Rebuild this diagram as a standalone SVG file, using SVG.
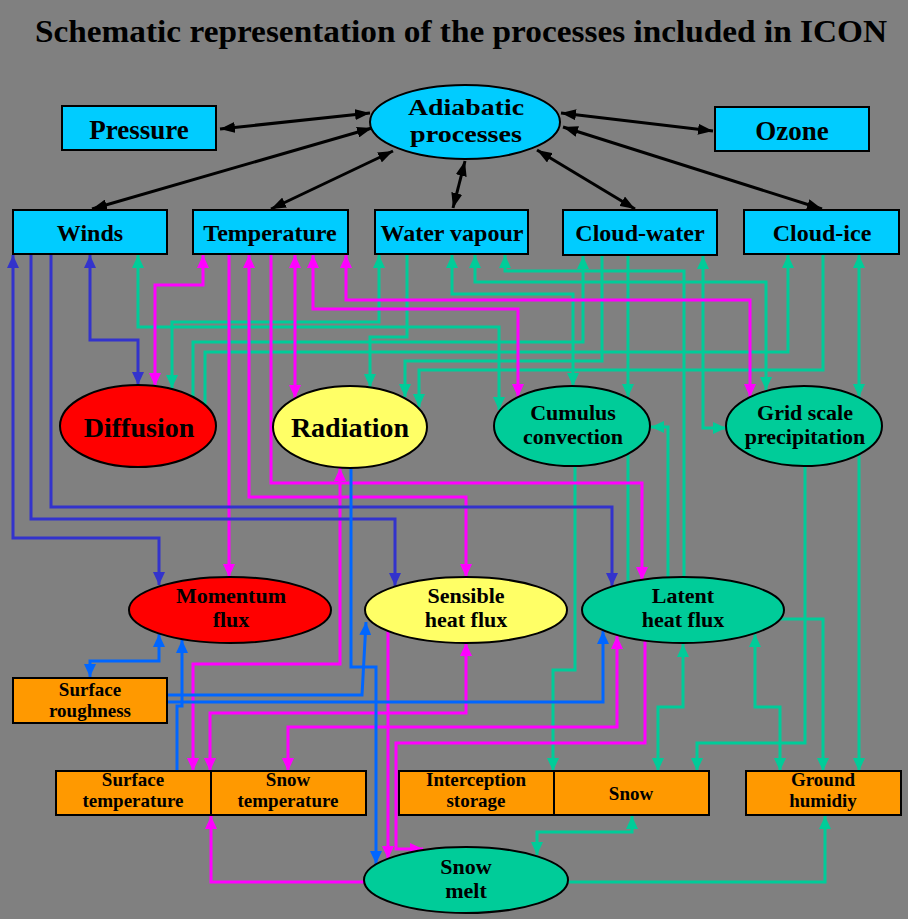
<svg xmlns="http://www.w3.org/2000/svg" width="908" height="919" viewBox="0 0 908 919">
<style>
text{font-family:"Liberation Serif","Times New Roman",serif;font-weight:bold;text-anchor:middle;fill:#000}
.bx{stroke:#000;stroke-width:2}
.cy{fill:#00ccff}.or{fill:#ff9900}.rd{fill:#ff0000}.ye{fill:#ffff66}.tl{fill:#00cc99}
.c{fill:none;stroke-width:3}
.k{stroke:#000;marker-start:url(#ak);marker-end:url(#ak)}
.b{stroke:#3333cc}.lb{stroke:#0066ff}.m{stroke:#ff00ff}.t{stroke:#00cc99}
.b.e,.b.d{marker-end:url(#ab)}.b.d{marker-start:url(#ab)}
.lb.e,.lb.d{marker-end:url(#alb)}.lb.d{marker-start:url(#alb)}
.m.e,.m.d{marker-end:url(#am)}.m.d{marker-start:url(#am)}
.t.e,.t.d{marker-end:url(#at)}.t.d{marker-start:url(#at)}
.f24{font-size:24px}.f27{font-size:27px}.f28{font-size:28px}.f20{font-size:19px}.f25{font-size:22px}
</style>
<defs>
<marker id="ak" viewBox="0 0 15 11" refX="15" refY="5.5" markerWidth="15" markerHeight="11" markerUnits="userSpaceOnUse" orient="auto-start-reverse"><path d="M0,0L15,5.5L0,11z" fill="#000"/></marker>
<marker id="ab" viewBox="0 0 13 12" refX="13" refY="6" markerWidth="13" markerHeight="12" markerUnits="userSpaceOnUse" orient="auto-start-reverse"><path d="M0,0L13,6L0,12z" fill="#3333cc"/></marker>
<marker id="alb" viewBox="0 0 13 12" refX="13" refY="6" markerWidth="13" markerHeight="12" markerUnits="userSpaceOnUse" orient="auto-start-reverse"><path d="M0,0L13,6L0,12z" fill="#0066ff"/></marker>
<marker id="am" viewBox="0 0 13 12" refX="13" refY="6" markerWidth="13" markerHeight="12" markerUnits="userSpaceOnUse" orient="auto-start-reverse"><path d="M0,0L13,6L0,12z" fill="#ff00ff"/></marker>
<marker id="at" viewBox="0 0 13 12" refX="13" refY="6" markerWidth="13" markerHeight="12" markerUnits="userSpaceOnUse" orient="auto-start-reverse"><path d="M0,0L13,6L0,12z" fill="#00cc99"/></marker>
</defs>
<rect width="908" height="919" fill="#808080"/>
<text x="461" y="42" font-size="32" textLength="852" lengthAdjust="spacingAndGlyphs">Schematic representation of the processes included in ICON</text>
<g id="connectors">
<path class="c k" d="M220,129L370,113"/>
<path class="c k" d="M561,113L713,131"/>
<path class="c k" d="M92,209L372,128"/>
<path class="c k" d="M271,209L393,151"/>
<path class="c k" d="M453,208L465,161"/>
<path class="c k" d="M635,209L537,150"/>
<path class="c k" d="M822,209L563,127"/>
<path class="c t d" d="M138,255V327H499V410"/>
<path class="c t d" d="M379,255V322H172V388"/>
<path class="c t e" d="M407,254V337H370V387"/>
<path class="c t e" d="M193,397V342H583V256"/>
<path class="c t e" d="M205,405V352H788V255"/>
<path class="c t e" d="M602,255V361H405V397"/>
<path class="c t e" d="M823,254V370H419V407"/>
<path class="c t d" d="M452,255V294H573V386"/>
<path class="c t d" d="M475,255V282H766V390"/>
<path class="c t e" d="M684,578V271H505V255"/>
<path class="c t e" d="M628,255V397"/>
<path class="c t" d="M628,454V582"/>
<path class="c t d" d="M703,256V428H726"/>
<path class="c t d" d="M859,255V397"/>
<path class="c t e" d="M668,578V427H651"/>
<path class="c t e" d="M575,466V670H553V771"/>
<path class="c t e" d="M805,467V743H697V771"/>
<path class="c t e" d="M859,455V771"/>
<path class="c t e" d="M780,619H823V771"/>
<path class="c t d" d="M780,771V707H755V634"/>
<path class="c t d" d="M658,771V707H683V644"/>
<path class="c t d" d="M632,816V832H537V855"/>
<path class="c t e" d="M568,882H825V816"/>
<path class="c m d" d="M203,255V285H155V386"/>
<path class="c m e" d="M229,254V577"/>
<path class="c m d" d="M249,255V497H466V577"/>
<path class="c m e" d="M271,254V483H642V580"/>
<path class="c m d" d="M295,255V398"/>
<path class="c m d" d="M313,255V309H518V397"/>
<path class="c m d" d="M346,255V300H750V397"/>
<path class="c m d" d="M340,468V664H193V771"/>
<path class="c m d" d="M466,643V713H210V771"/>
<path class="c m d" d="M617,636V727H288V771"/>
<path class="c m e" d="M645,641V743H396V849H423"/>
<path class="c m e" d="M388,631V859"/>
<path class="c m e" d="M365,882H211V816"/>
<path class="c b d" d="M13,255V538H159V585"/>
<path class="c b e" d="M31,254V519H395V586"/>
<path class="c b e" d="M51,254V507H612V586"/>
<path class="c b d" d="M90,255V340H138V385"/>
<path class="c lb d" d="M90,677V661H159V634"/>
<path class="c lb e" d="M177,771V706H182V640"/>
<path class="c lb e" d="M167,695H362L366,622"/>
<path class="c lb e" d="M167,702H603V631"/>
<path class="c lb e" d="M351,468V667H376V864"/>
</g>
<g id="pressure"><rect class="bx cy" x="62" y="106" width="154" height="44"/><text class="f27" x="139" y="139">Pressure</text></g>
<g id="adiabatic"><ellipse class="bx cy" cx="465" cy="122" rx="95" ry="37"/><text x="466" y="115" font-size="23" textLength="116" lengthAdjust="spacingAndGlyphs">Adiabatic</text><text x="466" y="142" font-size="23" textLength="112" lengthAdjust="spacingAndGlyphs">processes</text></g>
<g id="ozone"><rect class="bx cy" x="715" y="107" width="154" height="44"/><text class="f27" x="792" y="140">Ozone</text></g>
<g id="winds"><rect class="bx cy" x="13" y="210" width="154" height="44"/><text class="f24" x="90" y="241">Winds</text></g>
<g id="temperature"><rect class="bx cy" x="193" y="210" width="155" height="44"/><text class="f24" x="270" y="241">Temperature</text></g>
<g id="water-vapour"><rect class="bx cy" x="375" y="210" width="153" height="44"/><text class="f24" x="452" y="241">Water vapour</text></g>
<g id="cloud-water"><rect class="bx cy" x="563" y="210" width="154" height="45"/><text class="f24" x="640" y="241">Cloud-water</text></g>
<g id="cloud-ice"><rect class="bx cy" x="744" y="210" width="155" height="44"/><text class="f24" x="822" y="241">Cloud-ice</text></g>
<g id="diffusion"><ellipse class="bx rd" cx="138" cy="426" rx="78" ry="41"/><text class="f28" x="139" y="437">Diffusion</text></g>
<g id="radiation"><ellipse class="bx ye" cx="350" cy="427" rx="77" ry="41"/><text class="f28" x="350" y="437">Radiation</text></g>
<g id="cumulus"><ellipse class="bx tl" cx="572" cy="426" rx="78" ry="40"/><text class="f25" x="573" y="420">Cumulus</text><text class="f25" x="573" y="444">convection</text></g>
<g id="grid-scale"><ellipse class="bx tl" cx="804" cy="426" rx="78" ry="40"/><text class="f25" x="805" y="420">Grid scale</text><text class="f25" x="805" y="444">precipitation</text></g>
<g id="momentum-flux"><ellipse class="bx rd" cx="230" cy="610" rx="101" ry="33"/><text class="f25" x="231" y="603">Momentum</text><text class="f25" x="231" y="627">flux</text></g>
<g id="sensible-heat-flux"><ellipse class="bx ye" cx="466" cy="610" rx="101" ry="33"/><text class="f25" x="466" y="603">Sensible</text><text class="f25" x="466" y="627">heat flux</text></g>
<g id="latent-heat-flux"><ellipse class="bx tl" cx="683" cy="610" rx="101" ry="33"/><text class="f25" x="683" y="603">Latent</text><text class="f25" x="683" y="627">heat flux</text></g>
<g id="surface-roughness"><rect class="bx or" x="13" y="678" width="154" height="45"/><text class="f20" x="90" y="696">Surface</text><text class="f20" x="90" y="717">roughness</text></g>
<g id="surface-temperature"><rect class="bx or" x="56" y="771" width="155" height="44"/><text class="f20" x="133" y="786">Surface</text><text class="f20" x="133" y="807">temperature</text></g>
<g id="snow-temperature"><rect class="bx or" x="211" y="771" width="155" height="44"/><text class="f20" x="288" y="786">Snow</text><text class="f20" x="288" y="807">temperature</text></g>
<g id="interception-storage"><rect class="bx or" x="399" y="771" width="155" height="44"/><text class="f20" x="476" y="786">Interception</text><text class="f20" x="476" y="807">storage</text></g>
<g id="snow"><rect class="bx or" x="554" y="771" width="155" height="44"/><text class="f20" x="631" y="800">Snow</text></g>
<g id="ground-humidiy"><rect class="bx or" x="746" y="771" width="155" height="44"/><text class="f20" x="823" y="786">Ground</text><text class="f20" x="823" y="807">humidiy</text></g>
<g id="snow-melt"><ellipse class="bx tl" cx="466" cy="880" rx="102" ry="33"/><text class="f25" x="466" y="874">Snow</text><text class="f25" x="466" y="898">melt</text></g>
</svg>
